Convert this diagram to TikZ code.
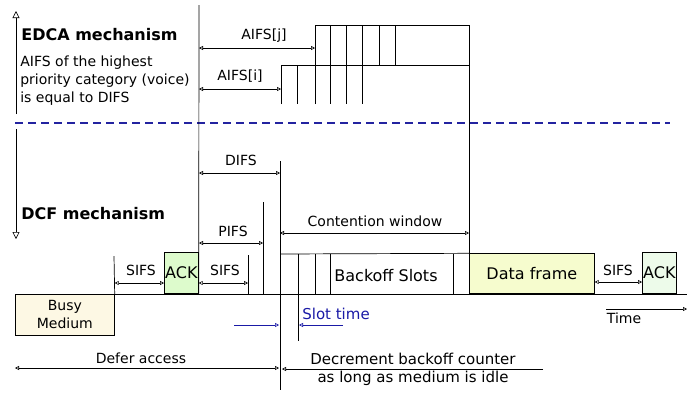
\documentclass[tikz,border=0pt]{standalone}
\usepackage{fontspec}
\setmainfont{DejaVu Sans}
\usetikzlibrary{arrows.meta}
\definecolor{busyfill}{HTML}{FDF8E4}
\definecolor{ackfill}{HTML}{DDFBCC}
\definecolor{ackpale}{HTML}{EDFBEA}
\definecolor{datafill}{HTML}{F6FCCE}
\definecolor{slotblue}{HTML}{1A1AA6}
\definecolor{dashblue}{HTML}{2323A0}
\begin{document}
\begin{tikzpicture}[x=1pt,y=-1pt,line width=0.7pt,
	font=\fontsize{14}{18}\selectfont,
	dim/.style={{Triangle[open,length=4pt,width=4pt]}-{Triangle[open,length=4pt,width=4pt]},line width=0.6pt},
	onedim/.style={-{Triangle[open,length=4pt,width=4pt]},line width=0.6pt},
	phase/.style={-{Triangle[open,length=7pt,width=7pt]},line width=0.6pt},
	frame/.style={draw,inner sep=0pt,anchor=south west,minimum height=41pt,font=\fontsize{16}{18}\selectfont},
	lbl/.style={inner sep=0pt},
	bigger/.style={font=\fontsize{15}{18}\selectfont},
	heading/.style={inner sep=0pt,anchor=west,font=\fontsize{16}{18}\selectfont\bfseries}]
	\useasboundingbox (0,0) rectangle (697,392);
	\node[heading] (edca) at (21,35) {EDCA mechanism};
	\node[lbl,anchor=west,align=left] (note) at (20,81) {AIFS of the highest\\priority category (voice)\\is equal to DIFS};
	\node[heading] (dcf) at (21,214) {DCF mechanism};
	\coordinate (edcatop) at (16,11);
	\coordinate (edcabot) at (16,114);
	\coordinate (dcftop) at (16,129);
	\coordinate (dcfbot) at (16,239);
	\draw[phase] (edcabot) -- (edcatop);
	\draw[phase] (dcftop) -- (dcfbot);
	\coordinate (sepl) at (15,123);
	\coordinate (sepr) at (670,123);
	\draw[dashblue,line width=1.6pt,dash pattern=on 8pt off 5pt] (sepl) -- (sepr);
	\node[frame,fill=busyfill,anchor=north west,minimum width=99pt,align=center,font=\fontsize{14}{18}\selectfont] (busy) at (15,294) {Busy\\Medium};
	\node[frame,fill=ackfill,minimum width=34pt] (ack) at (164,294) {ACK};
	\node[frame,fill=datafill,minimum width=125pt,minimum height=40pt] (data) at (469,294) {Data frame};
	\node[frame,fill=ackpale,minimum width=34pt] (ackb) at (642,294) {ACK};
	\draw[line width=1pt] (busy.north east) -- (687,294);
	\draw (199,5) -- (ack.south east);
	\draw (busy.north east) -- (114,256);
	\draw (248,255) -- (248,294);
	\draw (263,202) -- (263,294);
	\draw (280,161) -- (280,390);
	\draw (data.north west) -- (469,25);
	\draw (315,104) -- (315,25) -- (469,25);
	\draw (281,104) -- (281,65) -- (469,65);
	\draw (297,65) -- (297,104);
	\foreach \x in {330,346,362}
		\draw (\x,25) -- (\x,104);
	\foreach \x in {379,395}
		\draw (\x,25) -- (\x,65);
	\draw (281,254) -- (data.north west);
	\foreach \x in {298,315,330,453}
		\draw (\x,254) -- (\x,294);
	\node[lbl,font=\fontsize{16}{18}\selectfont] (slots) at (386,276) {Backoff Slots};
	\draw[dim] (199,48) -- (315,48);
	\node[lbl] (aifsj) at (264,36) {AIFS[j]};
	\draw[dim] (199,89) -- (281,89);
	\node[lbl] (aifsi) at (240,76) {AIFS[i]};
	\draw[dim] (199,173) -- (280,173);
	\node[lbl] (difs) at (241,160) {DIFS};
	\draw[dim] (199,243) -- (263,243);
	\node[lbl] (pifs) at (233,231) {PIFS};
	\draw[dim] (280,233) -- (469,233);
	\node[lbl] (cw) at (375,221) {Contention window};
	\draw[dim] (busy.north east |- 0,283) -- (ack.west |- 0,283);
	\node[lbl] (sifsa) at (141,270) {SIFS};
	\draw[dim] (ack.east |- 0,283) -- (248,283);
	\node[lbl] (sifsb) at (225,270) {SIFS};
	\draw[dim] (data.east |- 0,282) -- (ackb.west |- 0,282);
	\node[lbl] (sifsc) at (618,270) {SIFS};
	\draw (298,294) -- (298,341);
	\draw[onedim,slotblue] (234,325) -- (279,325);
	\draw[onedim,slotblue] (343,325) -- (299,325);
	\node[lbl,bigger,anchor=west,text=slotblue] (slot) at (302,314) {Slot time};
	\draw[onedim] (606,309) -- (687,309);
	\node[lbl] (time) at (624,318) {Time};
	\draw[dim] (15,368) -- (279,368);
	\node[lbl] (defer) at (141,358) {Defer access};
	\draw[onedim] (543,369) -- (282,369);
	\node[lbl,bigger,align=center] (decr) at (413,369) {Decrement backoff counter\\as long as medium is idle};
\end{tikzpicture}
\end{document}
